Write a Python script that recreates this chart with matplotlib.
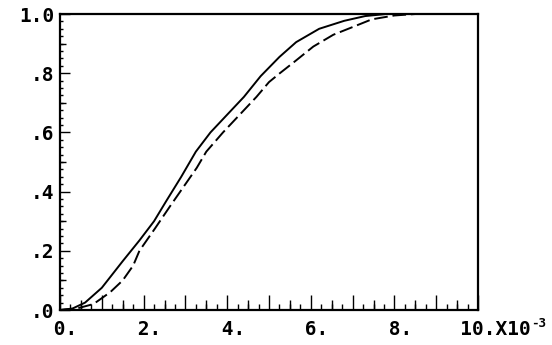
import matplotlib
matplotlib.use("Agg")
import matplotlib.pyplot as plt

# cumulative curves, x in units of 1e-3
x_solid = [0.0, 0.3, 0.6, 1.0, 1.5, 1.9, 2.25, 2.55, 2.9, 3.25, 3.6, 4.0,
           4.4, 4.8, 5.25, 5.65, 6.2, 6.8, 7.3, 7.8, 10.0]
y_solid = [0.0, 0.005, 0.025, 0.075, 0.165, 0.235, 0.30, 0.37, 0.45, 0.535,
           0.60, 0.66, 0.72, 0.79, 0.855, 0.905, 0.95, 0.977, 0.993, 1.0, 1.0]

x_dash = [0.0, 0.4, 0.8, 1.2, 1.5, 1.75, 1.9, 2.27, 2.63, 2.95, 3.27, 3.5,
          3.9, 4.3, 4.7, 5.0, 5.26, 5.62, 6.06, 6.54, 7.02, 7.46, 8.0, 8.5, 10.0]
y_dash = [0.0, 0.005, 0.02, 0.06, 0.10, 0.15, 0.20, 0.275, 0.35, 0.415, 0.48,
          0.535, 0.60, 0.66, 0.72, 0.77, 0.80, 0.84, 0.89, 0.93, 0.957, 0.982,
          0.995, 1.0, 1.0]

x_major = list(range(0, 11))
x_labels = [" 0.", "", " 2.", "", " 4.", "", " 6.", "", " 8.", "", "   10.X10"]
x_mid = [0.5, 1.5, 2.5, 3.5, 4.5, 5.5, 6.5, 7.5, 8.5, 9.5]
x_minor = [i * 0.25 for i in range(41)]

y_major = [0.0, 0.2, 0.4, 0.6, 0.8, 1.0]
y_labels = [".0", ".2", ".4", ".6", ".8", "1.0"]
y_mid = [0.1, 0.3, 0.5, 0.7, 0.9]
y_minor = [i * 0.025 for i in range(41)]

font = dict(family="DejaVu Sans Mono", weight="bold", size=14)

fig = plt.figure(figsize=(5.52, 3.45), dpi=100)
ax = fig.add_axes([60 / 552, 1 - 310 / 345, 418 / 552, 296 / 345])

ax.plot(x_solid, y_solid, color="black", lw=1.4)
ax.plot(x_dash, y_dash, color="black", lw=1.4, dashes=(7, 2.5))

ax.set_xlim(0, 10)
ax.set_ylim(0, 1)

for s in ax.spines.values():
    s.set_linewidth(1.6)

ax.set_xticks(x_major)
ax.set_xticklabels(x_labels, fontdict=font)
ax.set_xticks(x_minor, minor=True)
ax.set_yticks(y_major)
ax.set_yticklabels(y_labels, fontdict=font)
ax.set_yticks(y_minor, minor=True)

ax.tick_params(axis="x", which="major", direction="in", length=10.8, width=1, pad=7)
ax.tick_params(axis="x", which="minor", direction="in", length=4.3, width=1)
ax.tick_params(axis="y", which="major", direction="in", length=7.2, width=1, pad=4)
ax.tick_params(axis="y", which="minor", direction="in", length=2.5, width=1)
ax.tick_params(top=False, right=False, which="both")

# medium ticks
secx = ax.secondary_xaxis("bottom")
secx.set_xticks(x_mid)
secx.tick_params(direction="in", length=7.2, width=1, labelbottom=False)
secx.spines["bottom"].set_visible(False)

secy = ax.secondary_yaxis("left")
secy.set_yticks(y_mid)
secy.tick_params(direction="in", length=4.3, width=1, labelleft=False)
secy.spines["left"].set_visible(False)

ax.annotate("-3", xy=(10, 0), xycoords=("data", "axes fraction"),
            xytext=(38, -5), textcoords="offset points", ha="left", va="top",
            family="DejaVu Sans Mono", weight="bold", size=9)

fig.savefig("out.png", dpi=100)
